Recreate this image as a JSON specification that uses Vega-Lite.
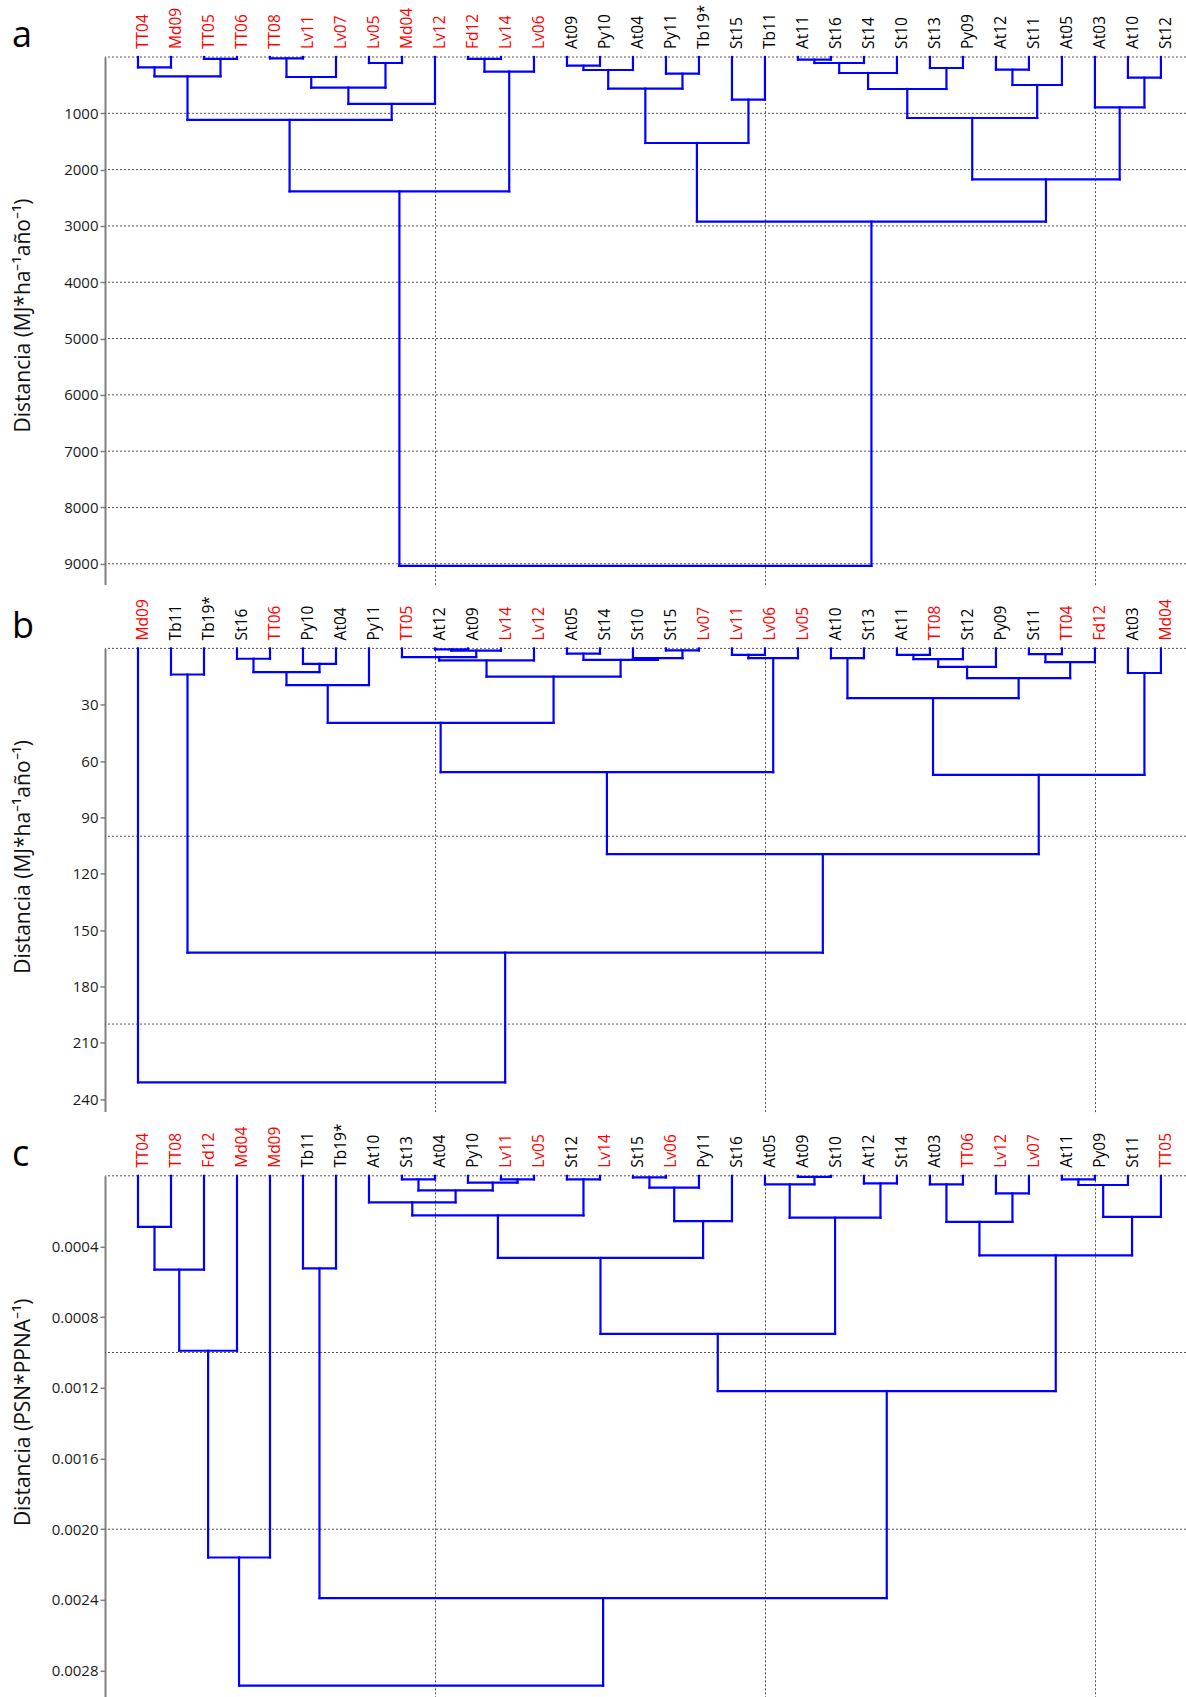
{
  "$schema": "https://vega.github.io/schema/vega-lite/v6.json",
  "padding": {"left": 12, "top": 4, "right": 0, "bottom": 0},
  "bounds": "flush",
  "spacing": 63.4,
  "config": {
    "view": {"stroke": null},
    "font": "Open Sans",
    "title": {"anchor": "start", "frame": "bounds", "orient": "top", "fontSize": 36, "font": "Open Sans", "fontWeight": "normal", "baseline": "alphabetic", "offset": -50, "color": "#000000"},
    "axis": {
      "domainColor": "#808080", "domainWidth": 2,
      "tickColor": "#808080", "tickWidth": 1.5, "tickSize": 5,
      "labelPadding": 2, "labelFontSize": 15, "labelColor": "#1a1a1a", "labelFont": "Open Sans",
      "titleFont": "Open Sans", "titleFontSize": 21, "titleFontWeight": "normal", "titleColor": "#111111"
    },
    "rule": {"color": "#0000ff", "strokeWidth": 2.2, "strokeCap": "square"},
    "text": {"angle": 270, "align": "left", "baseline": "alphabetic", "dx": 8, "dy": 10, "fontSize": 15.5, "font": "Open Sans"}
  },
  "datasets": {
    "a_rejilla": [{"v": 0}, {"v": 1000}, {"v": 2000}, {"v": 3000}, {"v": 4000}, {"v": 5000}, {"v": 6000}, {"v": 7000}, {"v": 8000}, {"v": 9000}],
    "b_rejilla": [{"v": 0}, {"v": 100}, {"v": 200}],
    "c_rejilla": [{"v": 0}, {"v": 0.001}, {"v": 0.002}],
    "a_hojas": [
      {"pos": 1, "nombre": "TT04", "grupo": "rojo"}, {"pos": 2, "nombre": "Md09", "grupo": "rojo"},
      {"pos": 3, "nombre": "TT05", "grupo": "rojo"}, {"pos": 4, "nombre": "TT06", "grupo": "rojo"},
      {"pos": 5, "nombre": "TT08", "grupo": "rojo"}, {"pos": 6, "nombre": "Lv11", "grupo": "rojo"},
      {"pos": 7, "nombre": "Lv07", "grupo": "rojo"}, {"pos": 8, "nombre": "Lv05", "grupo": "rojo"},
      {"pos": 9, "nombre": "Md04", "grupo": "rojo"}, {"pos": 10, "nombre": "Lv12", "grupo": "rojo"},
      {"pos": 11, "nombre": "Fd12", "grupo": "rojo"}, {"pos": 12, "nombre": "Lv14", "grupo": "rojo"},
      {"pos": 13, "nombre": "Lv06", "grupo": "rojo"}, {"pos": 14, "nombre": "At09", "grupo": "negro"},
      {"pos": 15, "nombre": "Py10", "grupo": "negro"}, {"pos": 16, "nombre": "At04", "grupo": "negro"},
      {"pos": 17, "nombre": "Py11", "grupo": "negro"}, {"pos": 18, "nombre": "Tb19*", "grupo": "negro"},
      {"pos": 19, "nombre": "St15", "grupo": "negro"}, {"pos": 20, "nombre": "Tb11", "grupo": "negro"},
      {"pos": 21, "nombre": "At11", "grupo": "negro"}, {"pos": 22, "nombre": "St16", "grupo": "negro"},
      {"pos": 23, "nombre": "St14", "grupo": "negro"}, {"pos": 24, "nombre": "St10", "grupo": "negro"},
      {"pos": 25, "nombre": "St13", "grupo": "negro"}, {"pos": 26, "nombre": "Py09", "grupo": "negro"},
      {"pos": 27, "nombre": "At12", "grupo": "negro"}, {"pos": 28, "nombre": "St11", "grupo": "negro"},
      {"pos": 29, "nombre": "At05", "grupo": "negro"}, {"pos": 30, "nombre": "At03", "grupo": "negro"},
      {"pos": 31, "nombre": "At10", "grupo": "negro"}, {"pos": 32, "nombre": "St12", "grupo": "negro"}
    ],
    "b_hojas": [
      {"pos": 1, "nombre": "Md09", "grupo": "rojo"}, {"pos": 2, "nombre": "Tb11", "grupo": "negro"},
      {"pos": 3, "nombre": "Tb19*", "grupo": "negro"}, {"pos": 4, "nombre": "St16", "grupo": "negro"},
      {"pos": 5, "nombre": "TT06", "grupo": "rojo"}, {"pos": 6, "nombre": "Py10", "grupo": "negro"},
      {"pos": 7, "nombre": "At04", "grupo": "negro"}, {"pos": 8, "nombre": "Py11", "grupo": "negro"},
      {"pos": 9, "nombre": "TT05", "grupo": "rojo"}, {"pos": 10, "nombre": "At12", "grupo": "negro"},
      {"pos": 11, "nombre": "At09", "grupo": "negro"}, {"pos": 12, "nombre": "Lv14", "grupo": "rojo"},
      {"pos": 13, "nombre": "Lv12", "grupo": "rojo"}, {"pos": 14, "nombre": "At05", "grupo": "negro"},
      {"pos": 15, "nombre": "St14", "grupo": "negro"}, {"pos": 16, "nombre": "St10", "grupo": "negro"},
      {"pos": 17, "nombre": "St15", "grupo": "negro"}, {"pos": 18, "nombre": "Lv07", "grupo": "rojo"},
      {"pos": 19, "nombre": "Lv11", "grupo": "rojo"}, {"pos": 20, "nombre": "Lv06", "grupo": "rojo"},
      {"pos": 21, "nombre": "Lv05", "grupo": "rojo"}, {"pos": 22, "nombre": "At10", "grupo": "negro"},
      {"pos": 23, "nombre": "St13", "grupo": "negro"}, {"pos": 24, "nombre": "At11", "grupo": "negro"},
      {"pos": 25, "nombre": "TT08", "grupo": "rojo"}, {"pos": 26, "nombre": "St12", "grupo": "negro"},
      {"pos": 27, "nombre": "Py09", "grupo": "negro"}, {"pos": 28, "nombre": "St11", "grupo": "negro"},
      {"pos": 29, "nombre": "TT04", "grupo": "rojo"}, {"pos": 30, "nombre": "Fd12", "grupo": "rojo"},
      {"pos": 31, "nombre": "At03", "grupo": "negro"}, {"pos": 32, "nombre": "Md04", "grupo": "rojo"}
    ],
    "c_hojas": [
      {"pos": 1, "nombre": "TT04", "grupo": "rojo"}, {"pos": 2, "nombre": "TT08", "grupo": "rojo"},
      {"pos": 3, "nombre": "Fd12", "grupo": "rojo"}, {"pos": 4, "nombre": "Md04", "grupo": "rojo"},
      {"pos": 5, "nombre": "Md09", "grupo": "rojo"}, {"pos": 6, "nombre": "Tb11", "grupo": "negro"},
      {"pos": 7, "nombre": "Tb19*", "grupo": "negro"}, {"pos": 8, "nombre": "At10", "grupo": "negro"},
      {"pos": 9, "nombre": "St13", "grupo": "negro"}, {"pos": 10, "nombre": "At04", "grupo": "negro"},
      {"pos": 11, "nombre": "Py10", "grupo": "negro"}, {"pos": 12, "nombre": "Lv11", "grupo": "rojo"},
      {"pos": 13, "nombre": "Lv05", "grupo": "rojo"}, {"pos": 14, "nombre": "St12", "grupo": "negro"},
      {"pos": 15, "nombre": "Lv14", "grupo": "rojo"}, {"pos": 16, "nombre": "St15", "grupo": "negro"},
      {"pos": 17, "nombre": "Lv06", "grupo": "rojo"}, {"pos": 18, "nombre": "Py11", "grupo": "negro"},
      {"pos": 19, "nombre": "St16", "grupo": "negro"}, {"pos": 20, "nombre": "At05", "grupo": "negro"},
      {"pos": 21, "nombre": "At09", "grupo": "negro"}, {"pos": 22, "nombre": "St10", "grupo": "negro"},
      {"pos": 23, "nombre": "At12", "grupo": "negro"}, {"pos": 24, "nombre": "St14", "grupo": "negro"},
      {"pos": 25, "nombre": "At03", "grupo": "negro"}, {"pos": 26, "nombre": "TT06", "grupo": "rojo"},
      {"pos": 27, "nombre": "Lv12", "grupo": "rojo"}, {"pos": 28, "nombre": "Lv07", "grupo": "rojo"},
      {"pos": 29, "nombre": "At11", "grupo": "negro"}, {"pos": 30, "nombre": "Py09", "grupo": "negro"},
      {"pos": 31, "nombre": "St11", "grupo": "negro"}, {"pos": 32, "nombre": "TT05", "grupo": "rojo"}
    ],
    "a_nodos": [
      {"xl": 1, "xr": 2, "hl": 0, "hr": 0, "h": 183},
      {"xl": 3, "xr": 4, "hl": 0, "hr": 0, "h": 35},
      {"xl": 1.5, "xr": 3.5, "hl": 183, "hr": 35, "h": 343},
      {"xl": 5, "xr": 6, "hl": 0, "hr": 0, "h": 24},
      {"xl": 5.5, "xr": 7, "hl": 24, "hr": 0, "h": 355},
      {"xl": 8, "xr": 9, "hl": 0, "hr": 0, "h": 107},
      {"xl": 6.25, "xr": 8.5, "hl": 355, "hr": 107, "h": 544},
      {"xl": 7.375, "xr": 10, "hl": 544, "hr": 0, "h": 834},
      {"xl": 2.5, "xr": 8.6875, "hl": 343, "hr": 834, "h": 1118},
      {"xl": 11, "xr": 12, "hl": 0, "hr": 0, "h": 35},
      {"xl": 11.5, "xr": 13, "hl": 35, "hr": 0, "h": 260},
      {"xl": 5.59375, "xr": 12.25, "hl": 1118, "hr": 260, "h": 2385},
      {"xl": 14, "xr": 15, "hl": 0, "hr": 0, "h": 154},
      {"xl": 14.5, "xr": 16, "hl": 154, "hr": 0, "h": 231},
      {"xl": 17, "xr": 18, "hl": 0, "hr": 0, "h": 296},
      {"xl": 15.25, "xr": 17.5, "hl": 231, "hr": 296, "h": 562},
      {"xl": 19, "xr": 20, "hl": 0, "hr": 0, "h": 757},
      {"xl": 16.375, "xr": 19.5, "hl": 562, "hr": 757, "h": 1527},
      {"xl": 21, "xr": 22, "hl": 0, "hr": 0, "h": 47},
      {"xl": 21.5, "xr": 23, "hl": 47, "hr": 0, "h": 107},
      {"xl": 22.25, "xr": 24, "hl": 107, "hr": 0, "h": 284},
      {"xl": 25, "xr": 26, "hl": 0, "hr": 0, "h": 195},
      {"xl": 23.125, "xr": 25.5, "hl": 284, "hr": 195, "h": 568},
      {"xl": 27, "xr": 28, "hl": 0, "hr": 0, "h": 225},
      {"xl": 27.5, "xr": 29, "hl": 225, "hr": 0, "h": 497},
      {"xl": 24.3125, "xr": 28.25, "hl": 568, "hr": 497, "h": 1083},
      {"xl": 31, "xr": 32, "hl": 0, "hr": 0, "h": 367},
      {"xl": 30, "xr": 31.5, "hl": 0, "hr": 367, "h": 893},
      {"xl": 26.28125, "xr": 30.75, "hl": 1083, "hr": 893, "h": 2173},
      {"xl": 17.9375, "xr": 28.515625, "hl": 1527, "hr": 2173, "h": 2923},
      {"xl": 8.921875, "xr": 23.2265625, "hl": 2385, "hr": 2923, "h": 9036}
    ],
    "b_nodos": [
      {"xl": 2, "xr": 3, "hl": 0, "hr": 0, "h": 13.9},
      {"xl": 4, "xr": 5, "hl": 0, "hr": 0, "h": 5.5},
      {"xl": 6, "xr": 7, "hl": 0, "hr": 0, "h": 8.2},
      {"xl": 4.5, "xr": 6.5, "hl": 5.5, "hr": 8.2, "h": 12.6},
      {"xl": 5.5, "xr": 8, "hl": 12.6, "hr": 0, "h": 19.5},
      {"xl": 10, "xr": 11, "hl": 0, "hr": 0, "h": 0.5},
      {"xl": 10.5, "xr": 12, "hl": 0.5, "hr": 0, "h": 1.2},
      {"xl": 9, "xr": 11.25, "hl": 0, "hr": 1.2, "h": 4.6},
      {"xl": 10.125, "xr": 13, "hl": 4.6, "hr": 0, "h": 6.4},
      {"xl": 14, "xr": 15, "hl": 0, "hr": 0, "h": 2.8},
      {"xl": 17, "xr": 18, "hl": 0, "hr": 0, "h": 1.1},
      {"xl": 16, "xr": 17.5, "hl": 0, "hr": 1.1, "h": 5.2},
      {"xl": 14.5, "xr": 16.75, "hl": 2.8, "hr": 5.2, "h": 6.1},
      {"xl": 11.5625, "xr": 15.625, "hl": 6.4, "hr": 6.1, "h": 15.0},
      {"xl": 6.75, "xr": 13.59375, "hl": 19.5, "hr": 15.0, "h": 39.6},
      {"xl": 19, "xr": 20, "hl": 0, "hr": 0, "h": 3.4},
      {"xl": 19.5, "xr": 21, "hl": 3.4, "hr": 0, "h": 5.2},
      {"xl": 10.171875, "xr": 20.25, "hl": 39.6, "hr": 5.2, "h": 65.9},
      {"xl": 22, "xr": 23, "hl": 0, "hr": 0, "h": 5.2},
      {"xl": 24, "xr": 25, "hl": 0, "hr": 0, "h": 3.4},
      {"xl": 24.5, "xr": 26, "hl": 3.4, "hr": 0, "h": 5.7},
      {"xl": 25.25, "xr": 27, "hl": 5.7, "hr": 0, "h": 9.8},
      {"xl": 28, "xr": 29, "hl": 0, "hr": 0, "h": 3.0},
      {"xl": 28.5, "xr": 30, "hl": 3.0, "hr": 0, "h": 7.3},
      {"xl": 26.125, "xr": 29.25, "hl": 9.8, "hr": 7.3, "h": 15.8},
      {"xl": 22.5, "xr": 27.6875, "hl": 5.2, "hr": 15.8, "h": 26.5},
      {"xl": 31, "xr": 32, "hl": 0, "hr": 0, "h": 13.1},
      {"xl": 25.09375, "xr": 31.5, "hl": 26.5, "hr": 13.1, "h": 67.3},
      {"xl": 15.2109375, "xr": 28.296875, "hl": 65.9, "hr": 67.3, "h": 109.5},
      {"xl": 2.5, "xr": 21.75390625, "hl": 13.9, "hr": 109.5, "h": 162},
      {"xl": 1, "xr": 12.126953125, "hl": 0, "hr": 162, "h": 231}
    ],
    "c_nodos": [
      {"xl": 1, "xr": 2, "hl": 0, "hr": 0, "h": 0.000289},
      {"xl": 1.5, "xr": 3, "hl": 0.000289, "hr": 0, "h": 0.000531},
      {"xl": 2.25, "xr": 4, "hl": 0.000531, "hr": 0, "h": 0.00099},
      {"xl": 3.125, "xr": 5, "hl": 0.00099, "hr": 0, "h": 0.00216},
      {"xl": 6, "xr": 7, "hl": 0, "hr": 0, "h": 0.000524},
      {"xl": 9, "xr": 10, "hl": 0, "hr": 0, "h": 0.00002},
      {"xl": 12, "xr": 13, "hl": 0, "hr": 0, "h": 0.00002},
      {"xl": 11, "xr": 12.5, "hl": 0, "hr": 0.00002, "h": 0.000039},
      {"xl": 9.5, "xr": 11.75, "hl": 0.00002, "hr": 0.000039, "h": 0.000083},
      {"xl": 8, "xr": 10.625, "hl": 0, "hr": 0.000083, "h": 0.00015},
      {"xl": 14, "xr": 15, "hl": 0, "hr": 0, "h": 0.00002},
      {"xl": 9.3125, "xr": 14.5, "hl": 0.00015, "hr": 0.00002, "h": 0.000224},
      {"xl": 16, "xr": 17, "hl": 0, "hr": 0, "h": 0.000009},
      {"xl": 16.5, "xr": 18, "hl": 0.000009, "hr": 0, "h": 0.000067},
      {"xl": 17.25, "xr": 19, "hl": 0.000067, "hr": 0, "h": 0.000256},
      {"xl": 11.90625, "xr": 18.125, "hl": 0.000224, "hr": 0.000256, "h": 0.000465},
      {"xl": 21, "xr": 22, "hl": 0, "hr": 0, "h": 0.000006},
      {"xl": 20, "xr": 21.5, "hl": 0, "hr": 0.000006, "h": 0.000048},
      {"xl": 23, "xr": 24, "hl": 0, "hr": 0, "h": 0.000043},
      {"xl": 20.75, "xr": 23.5, "hl": 0.000048, "hr": 0.000043, "h": 0.000237},
      {"xl": 15.015625, "xr": 22.125, "hl": 0.000465, "hr": 0.000237, "h": 0.000895},
      {"xl": 25, "xr": 26, "hl": 0, "hr": 0, "h": 0.000048},
      {"xl": 27, "xr": 28, "hl": 0, "hr": 0, "h": 0.0001},
      {"xl": 25.5, "xr": 27.5, "hl": 0.000048, "hr": 0.0001, "h": 0.000261},
      {"xl": 29, "xr": 30, "hl": 0, "hr": 0, "h": 0.00002},
      {"xl": 29.5, "xr": 31, "hl": 0.00002, "hr": 0, "h": 0.000052},
      {"xl": 30.25, "xr": 32, "hl": 0.000052, "hr": 0, "h": 0.000233},
      {"xl": 26.5, "xr": 31.125, "hl": 0.000261, "hr": 0.000233, "h": 0.00045},
      {"xl": 18.5703125, "xr": 28.8125, "hl": 0.000895, "hr": 0.00045, "h": 0.001218},
      {"xl": 6.5, "xr": 23.69140625, "hl": 0.000524, "hr": 0.001218, "h": 0.00239},
      {"xl": 4.0625, "xr": 15.095703125, "hl": 0.00216, "hr": 0.00239, "h": 0.002885}
    ]
  },
  "vconcat": [
    {
      "width": 1081, "height": 527.6,
      "title": {"text": "a"},
      "layer": [
        {"data": {"name": "a_rejilla"}, "mark": {"type": "rule", "strokeDash": [2, 2], "color": "#555555", "strokeWidth": 1, "strokeCap": "butt"},
         "encoding": {"y": {"field": "v", "type": "quantitative", "scale": {"domain": [0, 9370], "reverse": true, "nice": false, "zero": false},
           "axis": {"orient": "left", "values": [1000, 2000, 3000, 4000, 5000, 6000, 7000, 8000, 9000], "format": "d", "grid": false, "title": "Distancia (MJ*ha⁻¹año⁻¹)", "titleX": -72, "titleY": 258}}}},
        {"data": {"name": "a_nodos"}, "mark": {"type": "rule"},
         "encoding": {"x": {"field": "xl", "type": "quantitative", "scale": {"domain": [0, 32.76], "nice": false, "zero": false},
           "axis": {"orient": "bottom", "values": [10, 20, 30], "grid": true, "gridDash": [2, 2], "gridColor": "#555555", "gridWidth": 1, "domain": false, "ticks": false, "labels": false, "title": null}},
           "x2": {"field": "xr"},
           "y": {"field": "h", "type": "quantitative", "scale": {"domain": [0, 9370], "reverse": true, "nice": false, "zero": false},
           "axis": {"orient": "left", "values": [1000, 2000, 3000, 4000, 5000, 6000, 7000, 8000, 9000], "format": "d", "grid": false, "title": "Distancia (MJ*ha⁻¹año⁻¹)", "titleX": -72, "titleY": 258}}}},
        {"data": {"name": "a_nodos"}, "mark": {"type": "rule"},
         "encoding": {"x": {"field": "xl", "type": "quantitative", "scale": {"domain": [0, 32.76], "nice": false, "zero": false},
           "axis": {"orient": "bottom", "values": [10, 20, 30], "grid": true, "gridDash": [2, 2], "gridColor": "#555555", "gridWidth": 1, "domain": false, "ticks": false, "labels": false, "title": null}},
           "y": {"field": "hl", "type": "quantitative", "scale": {"domain": [0, 9370], "reverse": true, "nice": false, "zero": false},
           "axis": {"orient": "left", "values": [1000, 2000, 3000, 4000, 5000, 6000, 7000, 8000, 9000], "format": "d", "grid": false, "title": "Distancia (MJ*ha⁻¹año⁻¹)", "titleX": -72, "titleY": 258}},
           "y2": {"field": "h"}}},
        {"data": {"name": "a_nodos"}, "mark": {"type": "rule"},
         "encoding": {"x": {"field": "xr", "type": "quantitative", "scale": {"domain": [0, 32.76], "nice": false, "zero": false},
           "axis": {"orient": "bottom", "values": [10, 20, 30], "grid": true, "gridDash": [2, 2], "gridColor": "#555555", "gridWidth": 1, "domain": false, "ticks": false, "labels": false, "title": null}},
           "y": {"field": "hr", "type": "quantitative", "scale": {"domain": [0, 9370], "reverse": true, "nice": false, "zero": false},
           "axis": {"orient": "left", "values": [1000, 2000, 3000, 4000, 5000, 6000, 7000, 8000, 9000], "format": "d", "grid": false, "title": "Distancia (MJ*ha⁻¹año⁻¹)", "titleX": -72, "titleY": 258}},
           "y2": {"field": "h"}}},
        {"data": {"name": "a_hojas"}, "mark": {"type": "text"},
         "encoding": {"x": {"field": "pos", "type": "quantitative", "scale": {"domain": [0, 32.76], "nice": false, "zero": false},
           "axis": {"orient": "bottom", "values": [10, 20, 30], "grid": true, "gridDash": [2, 2], "gridColor": "#555555", "gridWidth": 1, "domain": false, "ticks": false, "labels": false, "title": null}},
           "y": {"datum": 0, "type": "quantitative", "scale": {"domain": [0, 9370], "reverse": true, "nice": false, "zero": false},
           "axis": {"orient": "left", "values": [1000, 2000, 3000, 4000, 5000, 6000, 7000, 8000, 9000], "format": "d", "grid": false, "title": "Distancia (MJ*ha⁻¹año⁻¹)", "titleX": -72, "titleY": 258}},
           "text": {"field": "nombre"},
           "color": {"field": "grupo", "type": "nominal", "scale": {"domain": ["rojo", "negro"], "range": ["#ff0000", "#000000"]}, "legend": null}}}
      ]
    },
    {
      "width": 1081, "height": 463.2,
      "title": {"text": "b"},
      "layer": [
        {"data": {"name": "b_rejilla"}, "mark": {"type": "rule", "strokeDash": [2, 2], "color": "#555555", "strokeWidth": 1, "strokeCap": "butt"},
         "encoding": {"y": {"field": "v", "type": "quantitative", "scale": {"domain": [0, 246.6], "reverse": true, "nice": false, "zero": false},
           "axis": {"orient": "left", "values": [30, 60, 90, 120, 150, 180, 210, 240], "format": "d", "grid": false, "title": "Distancia (MJ*ha⁻¹año⁻¹)", "titleX": -72, "titleY": 208}}}},
        {"data": {"name": "b_nodos"}, "mark": {"type": "rule"},
         "encoding": {"x": {"field": "xl", "type": "quantitative", "scale": {"domain": [0, 32.76], "nice": false, "zero": false},
           "axis": {"orient": "bottom", "values": [10, 20, 30], "grid": true, "gridDash": [2, 2], "gridColor": "#555555", "gridWidth": 1, "domain": false, "ticks": false, "labels": false, "title": null}},
           "x2": {"field": "xr"},
           "y": {"field": "h", "type": "quantitative", "scale": {"domain": [0, 246.6], "reverse": true, "nice": false, "zero": false},
           "axis": {"orient": "left", "values": [30, 60, 90, 120, 150, 180, 210, 240], "format": "d", "grid": false, "title": "Distancia (MJ*ha⁻¹año⁻¹)", "titleX": -72, "titleY": 208}}}},
        {"data": {"name": "b_nodos"}, "mark": {"type": "rule"},
         "encoding": {"x": {"field": "xl", "type": "quantitative", "scale": {"domain": [0, 32.76], "nice": false, "zero": false},
           "axis": {"orient": "bottom", "values": [10, 20, 30], "grid": true, "gridDash": [2, 2], "gridColor": "#555555", "gridWidth": 1, "domain": false, "ticks": false, "labels": false, "title": null}},
           "y": {"field": "hl", "type": "quantitative", "scale": {"domain": [0, 246.6], "reverse": true, "nice": false, "zero": false},
           "axis": {"orient": "left", "values": [30, 60, 90, 120, 150, 180, 210, 240], "format": "d", "grid": false, "title": "Distancia (MJ*ha⁻¹año⁻¹)", "titleX": -72, "titleY": 208}},
           "y2": {"field": "h"}}},
        {"data": {"name": "b_nodos"}, "mark": {"type": "rule"},
         "encoding": {"x": {"field": "xr", "type": "quantitative", "scale": {"domain": [0, 32.76], "nice": false, "zero": false},
           "axis": {"orient": "bottom", "values": [10, 20, 30], "grid": true, "gridDash": [2, 2], "gridColor": "#555555", "gridWidth": 1, "domain": false, "ticks": false, "labels": false, "title": null}},
           "y": {"field": "hr", "type": "quantitative", "scale": {"domain": [0, 246.6], "reverse": true, "nice": false, "zero": false},
           "axis": {"orient": "left", "values": [30, 60, 90, 120, 150, 180, 210, 240], "format": "d", "grid": false, "title": "Distancia (MJ*ha⁻¹año⁻¹)", "titleX": -72, "titleY": 208}},
           "y2": {"field": "h"}}},
        {"data": {"name": "b_hojas"}, "mark": {"type": "text"},
         "encoding": {"x": {"field": "pos", "type": "quantitative", "scale": {"domain": [0, 32.76], "nice": false, "zero": false},
           "axis": {"orient": "bottom", "values": [10, 20, 30], "grid": true, "gridDash": [2, 2], "gridColor": "#555555", "gridWidth": 1, "domain": false, "ticks": false, "labels": false, "title": null}},
           "y": {"datum": 0, "type": "quantitative", "scale": {"domain": [0, 246.6], "reverse": true, "nice": false, "zero": false},
           "axis": {"orient": "left", "values": [30, 60, 90, 120, 150, 180, 210, 240], "format": "d", "grid": false, "title": "Distancia (MJ*ha⁻¹año⁻¹)", "titleX": -72, "titleY": 208}},
           "text": {"field": "nombre"},
           "color": {"field": "grupo", "type": "nominal", "scale": {"domain": ["rojo", "negro"], "range": ["#ff0000", "#000000"]}, "legend": null}}}
      ]
    },
    {
      "width": 1081, "height": 522,
      "title": {"text": "c"},
      "layer": [
        {"data": {"name": "c_rejilla"}, "mark": {"type": "rule", "strokeDash": [2, 2], "color": "#555555", "strokeWidth": 1, "strokeCap": "butt"},
         "encoding": {"y": {"field": "v", "type": "quantitative", "scale": {"domain": [0, 0.002954], "reverse": true, "nice": false, "zero": false},
           "axis": {"orient": "left", "values": [0.0004, 0.0008, 0.0012, 0.0016, 0.002, 0.0024, 0.0028], "format": ".4f", "grid": false, "title": "Distancia (PSN*PPNA⁻¹)", "titleX": -72, "titleY": 236}}}},
        {"data": {"name": "c_nodos"}, "mark": {"type": "rule"},
         "encoding": {"x": {"field": "xl", "type": "quantitative", "scale": {"domain": [0, 32.76], "nice": false, "zero": false},
           "axis": {"orient": "bottom", "values": [10, 20, 30], "grid": true, "gridDash": [2, 2], "gridColor": "#555555", "gridWidth": 1, "domain": false, "ticks": false, "labels": false, "title": null}},
           "x2": {"field": "xr"},
           "y": {"field": "h", "type": "quantitative", "scale": {"domain": [0, 0.002954], "reverse": true, "nice": false, "zero": false},
           "axis": {"orient": "left", "values": [0.0004, 0.0008, 0.0012, 0.0016, 0.002, 0.0024, 0.0028], "format": ".4f", "grid": false, "title": "Distancia (PSN*PPNA⁻¹)", "titleX": -72, "titleY": 236}}}},
        {"data": {"name": "c_nodos"}, "mark": {"type": "rule"},
         "encoding": {"x": {"field": "xl", "type": "quantitative", "scale": {"domain": [0, 32.76], "nice": false, "zero": false},
           "axis": {"orient": "bottom", "values": [10, 20, 30], "grid": true, "gridDash": [2, 2], "gridColor": "#555555", "gridWidth": 1, "domain": false, "ticks": false, "labels": false, "title": null}},
           "y": {"field": "hl", "type": "quantitative", "scale": {"domain": [0, 0.002954], "reverse": true, "nice": false, "zero": false},
           "axis": {"orient": "left", "values": [0.0004, 0.0008, 0.0012, 0.0016, 0.002, 0.0024, 0.0028], "format": ".4f", "grid": false, "title": "Distancia (PSN*PPNA⁻¹)", "titleX": -72, "titleY": 236}},
           "y2": {"field": "h"}}},
        {"data": {"name": "c_nodos"}, "mark": {"type": "rule"},
         "encoding": {"x": {"field": "xr", "type": "quantitative", "scale": {"domain": [0, 32.76], "nice": false, "zero": false},
           "axis": {"orient": "bottom", "values": [10, 20, 30], "grid": true, "gridDash": [2, 2], "gridColor": "#555555", "gridWidth": 1, "domain": false, "ticks": false, "labels": false, "title": null}},
           "y": {"field": "hr", "type": "quantitative", "scale": {"domain": [0, 0.002954], "reverse": true, "nice": false, "zero": false},
           "axis": {"orient": "left", "values": [0.0004, 0.0008, 0.0012, 0.0016, 0.002, 0.0024, 0.0028], "format": ".4f", "grid": false, "title": "Distancia (PSN*PPNA⁻¹)", "titleX": -72, "titleY": 236}},
           "y2": {"field": "h"}}},
        {"data": {"name": "c_hojas"}, "mark": {"type": "text"},
         "encoding": {"x": {"field": "pos", "type": "quantitative", "scale": {"domain": [0, 32.76], "nice": false, "zero": false},
           "axis": {"orient": "bottom", "values": [10, 20, 30], "grid": true, "gridDash": [2, 2], "gridColor": "#555555", "gridWidth": 1, "domain": false, "ticks": false, "labels": false, "title": null}},
           "y": {"datum": 0, "type": "quantitative", "scale": {"domain": [0, 0.002954], "reverse": true, "nice": false, "zero": false},
           "axis": {"orient": "left", "values": [0.0004, 0.0008, 0.0012, 0.0016, 0.002, 0.0024, 0.0028], "format": ".4f", "grid": false, "title": "Distancia (PSN*PPNA⁻¹)", "titleX": -72, "titleY": 236}},
           "text": {"field": "nombre"},
           "color": {"field": "grupo", "type": "nominal", "scale": {"domain": ["rojo", "negro"], "range": ["#ff0000", "#000000"]}, "legend": null}}}
      ]
    }
  ]
}
